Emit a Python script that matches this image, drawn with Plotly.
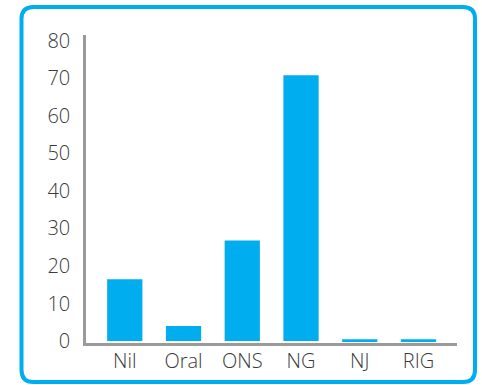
import plotly.graph_objects as go

# Feeding route categories and share of patients (%)
categories = ["Nil", "Oral", "ONS", "NG", "NJ", "RIG"]
values = [16.5, 4.0, 26.8, 70.8, 0.5, 0.5]
y_ticks = [0, 10, 20, 30, 40, 50, 60, 70, 80]

BLUE = "#00AEEF"
AXIS = "#9a9a9a"
TEXT = "#3a3a3a"

W, H = 482, 385
ML, MR, MT, MB = 86, 25, 35, 42
PW, PH = W - ML - MR, H - MT - MB


def px(x):
    return (x - ML) / PW


def py(y):
    return (H - MB - y) / PH


fig = go.Figure(
    go.Bar(
        x=categories,
        y=values,
        marker=dict(color=BLUE, line=dict(width=0)),
        width=0.6,
    )
)

# rounded frame around the chart
x0, x1, y0, y1, r = 21.5, 475, 7, 382, 12
path = (
    f"M {px(x0 + r)} {py(y0)} L {px(x1 - r)} {py(y0)} "
    f"Q {px(x1)} {py(y0)} {px(x1)} {py(y0 + r)} "
    f"L {px(x1)} {py(y1 - r)} Q {px(x1)} {py(y1)} {px(x1 - r)} {py(y1)} "
    f"L {px(x0 + r)} {py(y1)} Q {px(x0)} {py(y1)} {px(x0)} {py(y1 - r)} "
    f"L {px(x0)} {py(y0 + r)} Q {px(x0)} {py(y0)} {px(x0 + r)} {py(y0)} Z"
)
fig.add_shape(type="path", path=path, xref="paper", yref="paper",
              line=dict(color=BLUE, width=4), layer="below")

tick_font = dict(family="Open Sans, sans-serif", size=20, color=TEXT, weight=300)

fig.update_layout(
    width=W,
    height=H,
    margin=dict(l=ML, r=MR, t=MT, b=MB),
    paper_bgcolor="white",
    plot_bgcolor="white",
    showlegend=False,
    font=tick_font,
)
fig.update_xaxes(
    range=[-0.66, 5.655],
    showline=True, linecolor=AXIS, linewidth=2.5,
    showgrid=False, ticks="", tickfont=tick_font,
    ticklabelstandoff=-2, automargin=False,
)
fig.update_yaxes(
    range=[-0.5, 81.5],
    tickvals=y_ticks,
    showline=True, linecolor=AXIS, linewidth=2.5,
    showgrid=False, zeroline=False, ticks="",
    tickfont=tick_font,
    ticklabelstandoff=9, automargin=False,
)

fig.write_html("out.html")
